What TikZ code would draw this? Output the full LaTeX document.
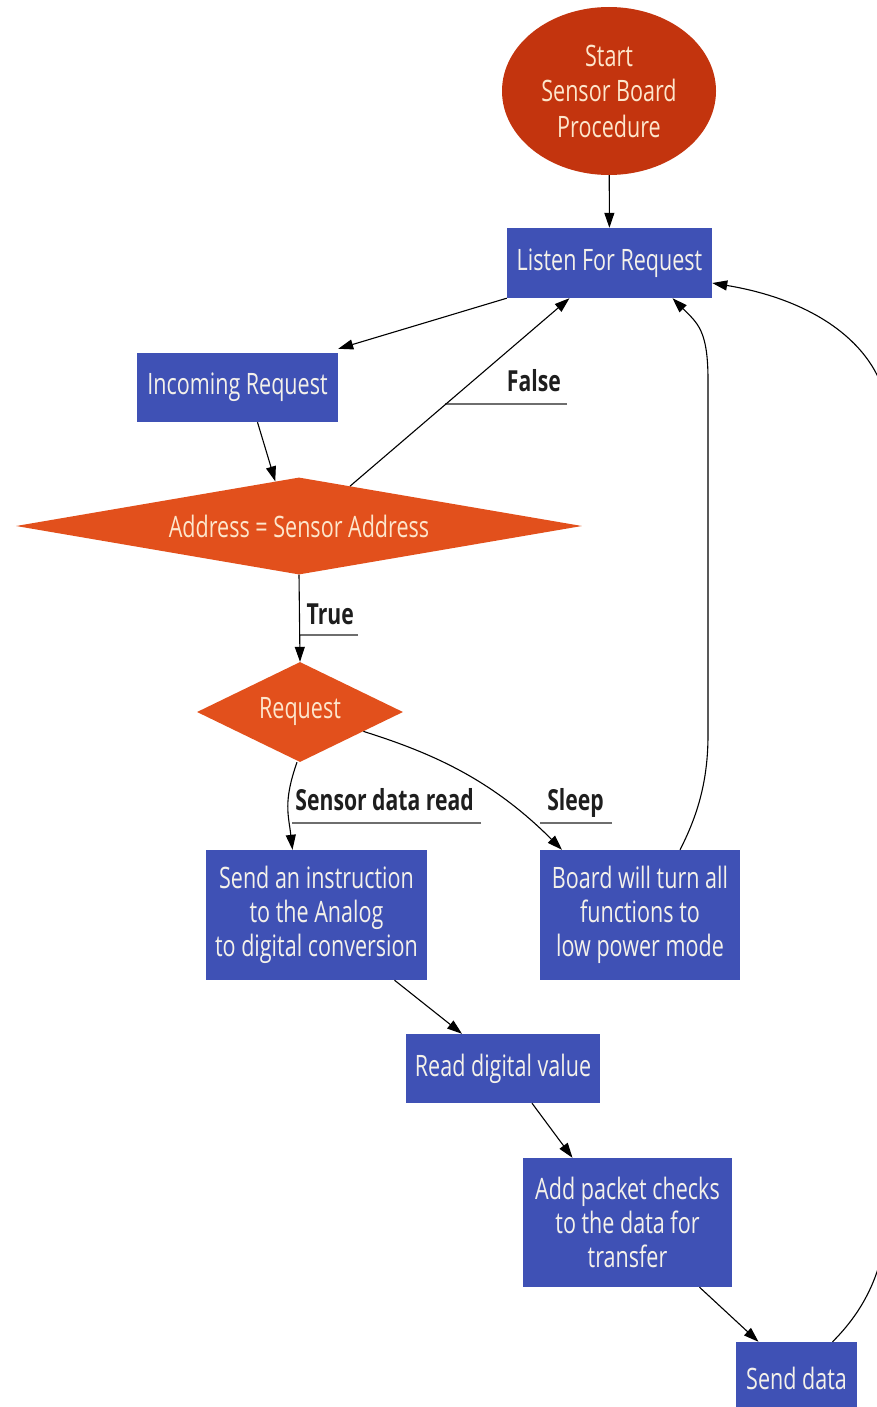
\documentclass[tikz,border=0pt]{standalone}
\usepackage{fontspec}
\setmainfont{Open Sans}[FakeStretch=0.73]
\usetikzlibrary{shapes.geometric,arrows.meta,calc}
\definecolor{indigo}{HTML}{3F51B5}
\definecolor{dorange}{HTML}{E2501C}
\definecolor{dred}{HTML}{C3340E}
\definecolor{boxtext}{HTML}{F4F1EA}
\definecolor{diatext}{HTML}{FDE6CC}
\definecolor{ulgray}{HTML}{6E6E6E}
\definecolor{lbltext}{HTML}{1E1E1E}
\begin{document}
\begin{tikzpicture}[x=1pt,y=-1pt,
  box/.style={rectangle, fill=indigo, text=boxtext, align=center, inner sep=0pt,
    font=\fontsize{29.5}{34}\selectfont},
  dia/.style={diamond, fill=dorange, text=diatext, inner sep=0pt,
    font=\fontsize{29.5}{34}\selectfont},
  lbl/.style={inner sep=0pt, text=lbltext, font=\fontsize{29}{34}\selectfont\bfseries},
  uline/.style={draw=ulgray, line width=2pt},
  conn/.style={draw=black, line width=1.1pt, -{Triangle[length=15pt,width=10pt]}}
]
\useasboundingbox (0,0) rectangle (877,1407);

% nodes
\node[ellipse, fill=dred, text=diatext, align=center, inner sep=0pt,
  minimum width=214pt, minimum height=168pt,
  font=\fontsize{29.5}{35.5}\selectfont] (start) at (609,91) {Start\\Sensor Board\\Procedure};
\node[box, minimum width=205pt, minimum height=70pt] (listen) at (609.5,263) {Listen For Request};
\node[box, minimum width=201pt, minimum height=69pt] (incoming) at (237.5,387.5) {Incoming Request};
\node[dia, aspect=5.8, minimum width=566pt, minimum height=97pt] (address) at (299,526) {Address = Sensor Address};
\node[dia, aspect=2, minimum width=206pt, minimum height=100pt] (request) at (300,712) {Request};
\node[box, minimum width=221pt, minimum height=130pt] (sendinstr) at (316.5,915)
  {Send an instruction\\to the Analog\\to digital conversion};
\node[box, minimum width=200pt, minimum height=130pt] (board) at (640,915)
  {Board will turn all\\functions to\\low power mode};
\node[box, minimum width=194pt, minimum height=69pt] (readval) at (503,1068.5) {Read digital value};
\node[box, minimum width=209pt, minimum height=129pt] (addpkt) at (627.5,1222.5)
  {Add packet checks\\to the data for\\transfer};
\node[box, minimum width=121pt, minimum height=72pt] (senddata) at (796.5,1378) {Send data};

% edge labels
\node[lbl, anchor=base east] (lfalse) at (561,391) {False};
\node[lbl, anchor=base east] (ltrue) at (354,624) {True};
\node[lbl, anchor=base east] (lsensor) at (474,810) {Sensor data read};
\node[lbl, anchor=base east] (lsleep) at (604,810) {Sleep};
\draw[uline] ([xshift=6pt,yshift=-13pt]lfalse.base east) -- ++(-122,0);
\draw[uline] ([xshift=4pt,yshift=-11pt]ltrue.base east) -- ++(-58,0);
\draw[uline] ([xshift=7pt,yshift=-13pt]lsensor.base east) -- ++(-189,0);
\draw[uline] ([xshift=8pt,yshift=-13pt]lsleep.base east) -- ++(-72,0);

% connectors
\draw[conn] (start) -- (listen);
\draw[conn] (listen.south west) -- ([yshift=4pt]incoming.north east);
\draw[conn] ([xshift=20pt]incoming.south) -- (address.118);
\draw[conn] (address.38) -- ([xshift=-40pt]listen.south);
\draw[conn] (address.south) -- (request.north);
\draw[conn] ([xshift=-3pt]request.south) .. controls +(-14,40) and +(-4,-35) .. ([xshift=-24pt]sendinstr.north);
\draw[conn] (request.-17) .. controls +(70,22) and +(-70,-70) .. ([xshift=-78pt]board.north);
\coordinate (bu1) at (708,735);
\coordinate (bu2) at (708,380);
\draw[conn] ([xshift=40pt]board.north) .. controls +(18,-35) and +(0,45) .. (bu1) -- (bu2)
  .. controls +(0,-50) and +(25,25) .. ([xshift=63pt]listen.south);
\draw[conn] ([xshift=78pt]sendinstr.south) -- ([xshift=-41pt]readval.north);
\draw[conn] ([xshift=29pt]readval.south) -- ([xshift=-55pt]addpkt.north);
\draw[conn] ([xshift=72pt]addpkt.south) -- ([xshift=-38pt]senddata.north);
\coordinate (sd1) at (888,1200);
\coordinate (sd2) at (888,420);
\draw[conn] ([xshift=36pt]senddata.north) .. controls +(30,-30) and +(0,70) .. (sd1) -- (sd2)
  .. controls +(0,-60) and +(120,20) .. ([yshift=-20pt]listen.east);
\end{tikzpicture}
\end{document}
